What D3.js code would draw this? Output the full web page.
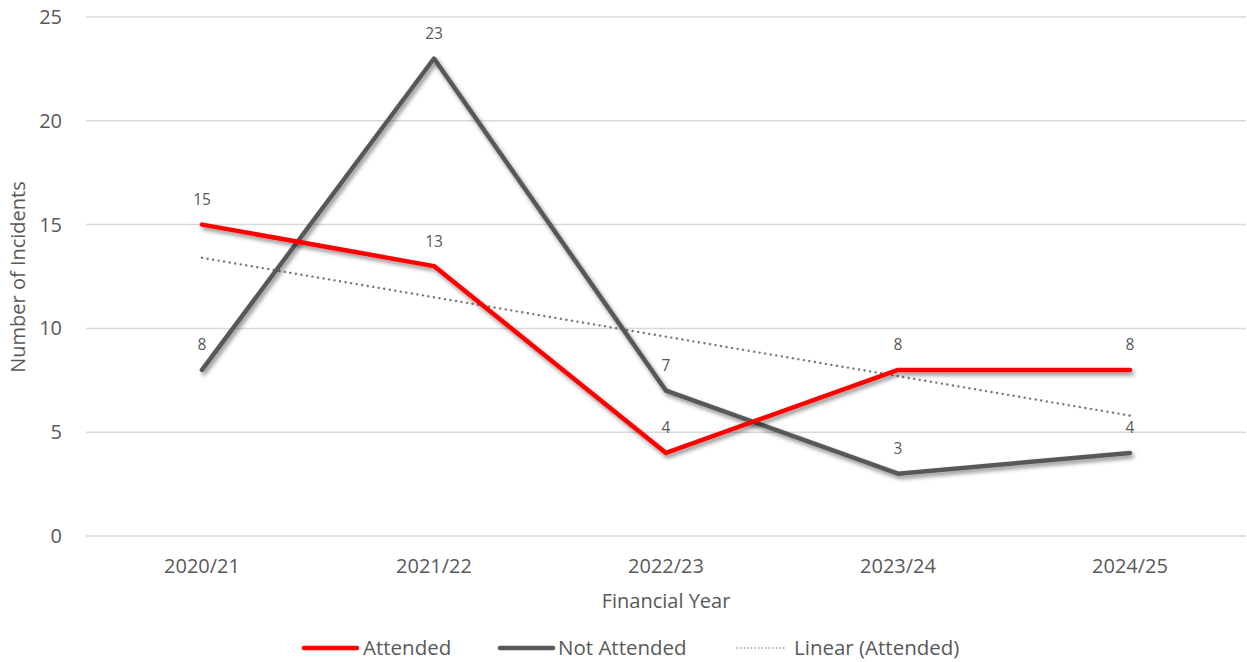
<!DOCTYPE html>
<html>
<head>
<meta charset="utf-8">
<script src="https://cdn.jsdelivr.net/npm/d3@7"></script>
<style>
  body { margin: 0; background: #ffffff; }
  text { font-family: "Open Sans", "Noto Sans", sans-serif; fill: #595959; }
</style>
</head>
<body>
<div id="chart"></div>
<script>
// data
var years = ["2020/21", "2021/22", "2022/23", "2023/24", "2024/25"];
var attended = [15, 13, 4, 8, 8];
var notAttended = [8, 23, 7, 3, 4];
var yTicks = [0, 5, 10, 15, 20, 25];

var width = 1247, height = 662;
var margin = {top: 17, right: 1, bottom: 126, left: 86};

var svg = d3.select("#chart")
  .append("svg")
    .attr("width", width)
    .attr("height", height);

// soft shadow under the series lines
var defs = svg.append("defs");
defs.append("filter")
    .attr("id", "shadow")
    .attr("filterUnits", "userSpaceOnUse")
    .attr("x", 0).attr("y", 0)
    .attr("width", width).attr("height", height)
  .append("feDropShadow")
    .attr("dx", 2)
    .attr("dy", 3)
    .attr("stdDeviation", 2.2)
    .attr("flood-color", "#000")
    .attr("flood-opacity", 0.45);

var x = d3.scaleBand()
  .domain(years)
  .range([margin.left, width - margin.right]);

var y = d3.scaleLinear()
  .domain([0, 25])
  .range([height - margin.bottom, margin.top]);

function cx(d, i) { return x(years[i]) + x.bandwidth() / 2; }

// gridlines
svg.append("g")
  .selectAll("line")
  .data(yTicks)
  .enter()
  .append("line")
    .attr("x1", margin.left)
    .attr("x2", width - margin.right)
    .attr("y1", function(d) { return y(d); })
    .attr("y2", function(d) { return y(d); })
    .style("stroke", "#d9d9d9")
    .style("stroke-width", 1.5);

// y tick labels
svg.append("g")
  .selectAll("text")
  .data(yTicks)
  .enter()
  .append("text")
    .attr("x", 62)
    .attr("y", function(d) { return y(d); })
    .attr("dy", "0.35em")
    .attr("text-anchor", "end")
    .attr("font-size", "20px")
    .text(function(d) { return d; });

// x tick labels
svg.append("g")
  .selectAll("text")
  .data(years)
  .enter()
  .append("text")
    .attr("x", function(d) { return x(d) + x.bandwidth() / 2; })
    .attr("y", 566)
    .attr("dy", "0.35em")
    .attr("text-anchor", "middle")
    .attr("font-size", "20px")
    .text(function(d) { return d; });

// axis titles
svg.append("text")
  .attr("x", (margin.left + width - margin.right) / 2)
  .attr("y", 601)
  .attr("dy", "0.35em")
  .attr("text-anchor", "middle")
  .attr("font-size", "20px")
  .text("Financial Year");

svg.append("text")
  .attr("transform", "translate(18," + 277 + ") rotate(-90)")
  .attr("dy", "0.35em")
  .attr("text-anchor", "middle")
  .attr("font-size", "20px")
  .text("Number of Incidents");

// linear trend of Attended (least squares over the category index)
var mx = d3.mean(attended, function(d, i) { return i; });
var my = d3.mean(attended);
var sxy = d3.sum(attended, function(d, i) { return (i - mx) * (d - my); });
var sxx = d3.sum(attended, function(d, i) { return (i - mx) * (i - mx); });
var slope = sxy / sxx;
var trend = attended.map(function(d, i) { return my + slope * (i - mx); });

var line = d3.line()
  .x(cx)
  .y(function(d) { return y(d); });

svg.append("path")
  .datum(trend)
  .attr("d", line)
  .style("fill", "none")
  .style("stroke", "#7a7a7a")
  .style("stroke-width", 2.4)
  .style("stroke-linecap", "round")
  .style("stroke-dasharray", "0.1,5.5");

var series = [
  {name: "Not Attended", values: notAttended, color: "#595959"},
  {name: "Attended", values: attended, color: "#ff0000"}
];

series.forEach(function(s) {
  svg.append("path")
    .datum(s.values)
    .attr("d", line)
    .attr("filter", "url(#shadow)")
    .style("fill", "none")
    .style("stroke", s.color)
    .style("stroke-width", 4.5)
    .style("stroke-linejoin", "round")
    .style("stroke-linecap", "round");
});

// data labels, sitting above each point
series.forEach(function(s) {
  svg.append("g")
    .selectAll("text")
    .data(s.values)
    .enter()
    .append("text")
      .attr("x", cx)
      .attr("y", function(d) { return y(d) - 25; })
      .attr("dy", "0.35em")
      .attr("text-anchor", "middle")
      .attr("font-size", "15.5px")
      .text(function(d) { return d; });
});

// legend
var legend = [
  {name: "Attended", color: "#ff0000", x1: 304, x2: 357, tx: 363, dash: null, w: 4.5},
  {name: "Not Attended", color: "#595959", x1: 500, x2: 553, tx: 558, dash: null, w: 4.5},
  {name: "Linear (Attended)", color: "#808080", x1: 737, x2: 785, tx: 794, dash: "0.1,3.5", w: 1.5}
];
var ly = 648;

legend.forEach(function(l) {
  svg.append("line")
    .attr("x1", l.x1)
    .attr("x2", l.x2)
    .attr("y1", ly)
    .attr("y2", ly)
    .style("stroke", l.color)
    .style("stroke-width", l.w)
    .style("stroke-linecap", "round")
    .style("stroke-dasharray", l.dash);
  svg.append("text")
    .attr("x", l.tx)
    .attr("y", ly)
    .attr("dy", "0.35em")
    .attr("font-size", "20.5px")
    .text(l.name);
});
</script>
</body>
</html>
